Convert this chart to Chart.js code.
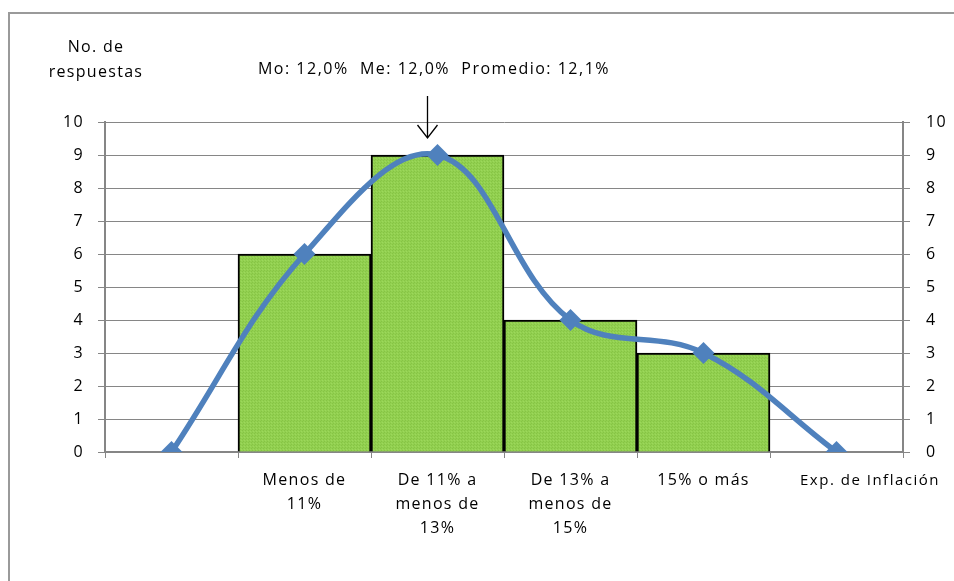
<!DOCTYPE html>
<html>
<head>
<meta charset="utf-8">
<script src="https://cdn.jsdelivr.net/npm/chart.js@4.4.1/dist/chart.umd.min.js"></script>
<style>
  html, body { margin: 0; padding: 0; background: #fff; }
  #wrap { width: 954px; height: 581px; position: relative; }
</style>
</head>
<body>
<div id="wrap"><canvas id="myChart" width="954" height="581"></canvas></div>
<script>
'use strict';

// categories (first and last slots are empty ends of the curve)
let categories = ['', ['Menos de', '11%'], ['De 11% a', 'menos de', '13%'], ['De 13% a', 'menos de', '15%'], '15% o más', ''];
let barValues = [null, 6, 9, 4, 3, null];
let curveValues = [0, 6, 9, 4, 3, 0];
let yTicks = [0, 1, 2, 3, 4, 5, 6, 7, 8, 9, 10];
let yTitle = ['No. de', 'respuestas'];
let xTitle = 'Exp. de Inflación';
let statsText = 'Mo: 12,0%  Me: 12,0%  Promedio: 12,1%';

let fontFamily = "'Open Sans', 'Noto Sans', sans-serif";

// little dotted green fill like the excel pattern
function makePattern() {
  let c = document.createElement('canvas');
  c.width = 3;
  c.height = 3;
  let g = c.getContext('2d');
  g.fillStyle = '#92D050';
  g.fillRect(0, 0, 3, 3);
  g.fillStyle = '#86C445';
  g.fillRect(0, 0, 1, 1);
  g.fillRect(2, 1, 1, 1);
  g.fillStyle = '#9CD85C';
  g.fillRect(1, 2, 1, 1);
  return g.createPattern(c, 'repeat');
}

let spacingPlugin = {
  id: 'spacing',
  beforeDraw(chart) {
    chart.ctx.letterSpacing = '1.3px';
  }
};

let extrasPlugin = {
  id: 'extras',
  beforeDraw(chart) {
    let ctx = chart.ctx;
    ctx.save();
    ctx.fillStyle = '#fff';
    ctx.fillRect(0, 0, chart.width, chart.height);
    // outer frame
    ctx.strokeStyle = '#9a9a9a';
    ctx.lineWidth = 2;
    ctx.beginPath();
    ctx.moveTo(9, chart.height + 5);
    ctx.lineTo(9, 13);
    ctx.lineTo(chart.width + 5, 13);
    ctx.stroke();
    ctx.restore();
  },
  afterDraw(chart) {
    let ctx = chart.ctx;
    let x = chart.scales.x;
    ctx.save();
    ctx.letterSpacing = '1.3px';
    ctx.fillStyle = '#000';
    ctx.textAlign = 'center';
    ctx.textBaseline = 'middle';
    ctx.font = '16px ' + fontFamily;
    ctx.fillText(yTitle[0], 96, 47);
    ctx.fillText(yTitle[1], 96, 72);
    ctx.letterSpacing = '1.5px';
    ctx.fillText(statsText, 434, 69);
    ctx.font = '15px ' + fontFamily;
    ctx.fillText(xTitle, 870, 481);
    // arrow pointing at the peak
    let ax = x.getPixelForValue(2) - 10;
    ctx.strokeStyle = '#000';
    ctx.lineWidth = 1.3;
    ctx.beginPath();
    ctx.moveTo(ax, 96);
    ctx.lineTo(ax, 138);
    ctx.moveTo(ax - 10, 125);
    ctx.lineTo(ax, 138);
    ctx.lineTo(ax + 10, 125);
    ctx.stroke();
    ctx.restore();
  }
};

let ctxChart = document.getElementById('myChart').getContext('2d');

const myChart = new Chart(ctxChart, {
  data: {
    labels: categories,
    datasets: [{
      type: 'line',
      data: curveValues,
      borderColor: '#4F81BD',
      backgroundColor: '#4F81BD',
      borderWidth: 5.5,
      tension: 0.38,
      pointStyle: 'rectRot',
      pointRadius: 11,
      pointBorderWidth: 0,
      order: 0
    }, {
      type: 'bar',
      data: barValues,
      backgroundColor: makePattern(),
      borderColor: '#000',
      borderWidth: 2,
      categoryPercentage: 1,
      barPercentage: 1,
      order: 1
    }]
  },
  options: {
    responsive: false,
    animation: false,
    events: [],
    layout: { padding: { top: 122, left: 0, right: 0, bottom: 0 } },
    plugins: {
      legend: { display: false },
      tooltip: { enabled: false }
    },
    scales: {
      x: {
        offset: true,
        afterFit(scale) { scale.height = 129; },
        border: { color: '#868686', width: 2 },
        grid: {
          offset: true,
          drawOnChartArea: false,
          color: '#868686',
          tickLength: 6
        },
        ticks: {
          color: '#000',
          font: { family: fontFamily, size: 16, lineHeight: 1.5 },
          padding: 10,
          maxRotation: 0,
          autoSkip: false
        }
      },
      y: {
        position: 'left',
        min: 0,
        max: 10,
        afterFit(scale) { scale.width = 105; },
        afterBuildTicks(scale) { scale.ticks = yTicks.map(v => ({ value: v })); },
        border: { color: '#868686', width: 2 },
        grid: { color: '#868686', lineWidth: 1, tickLength: 7 },
        ticks: {
          color: '#000',
          font: { family: fontFamily, size: 16 },
          padding: 14
        }
      },
      y2: {
        position: 'right',
        min: 0,
        max: 10,
        afterFit(scale) { scale.width = 51; },
        afterBuildTicks(scale) { scale.ticks = yTicks.map(v => ({ value: v })); },
        border: { color: '#868686', width: 2 },
        grid: { color: '#868686', lineWidth: 1, tickLength: 7, drawOnChartArea: false },
        ticks: {
          color: '#000',
          font: { family: fontFamily, size: 16 },
          padding: 16
        }
      }
    }
  },
  plugins: [spacingPlugin, extrasPlugin]
});
</script>
</body>
</html>
